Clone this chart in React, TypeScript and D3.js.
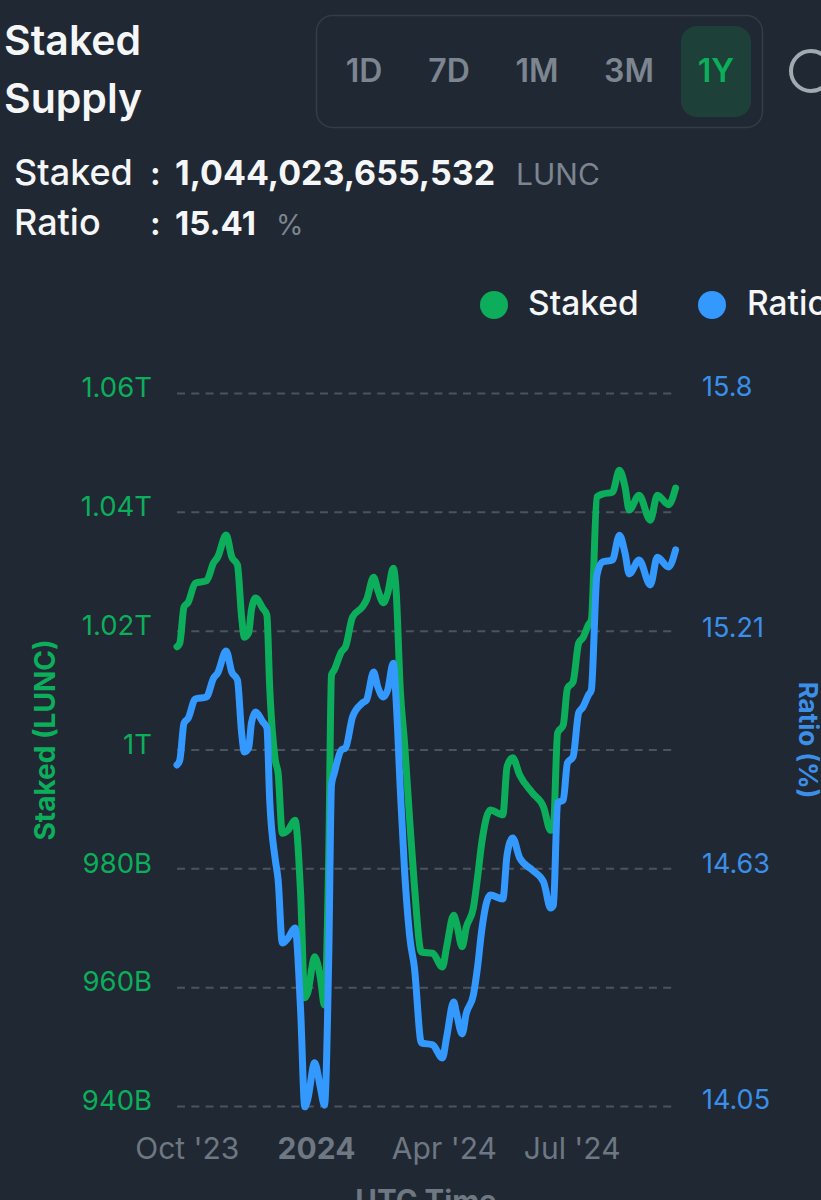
import * as d3 from "d3";
import React, { useEffect, useRef } from "react";

// days since the first point of the 1Y window
const dayOffsets = [
  0, 2, 5, 8, 13, 21, 26, 29, 35, 39, 43, 46, 48, 51, 53, 56, 61, 64, 66, 70, 72, 75, 79, 84, 88,
  91, 93, 98, 102, 105, 108, 110, 112, 117, 120, 125, 132, 135, 140, 143, 147, 150, 154, 156, 159,
  162, 166, 169, 174, 182, 189, 192, 197, 199, 203, 206, 211, 214, 217, 223, 232, 235, 239, 244,
  253, 261, 266, 268, 271, 275, 278, 282, 286, 289, 293, 295, 299, 303, 310, 315, 319, 322, 329,
  337, 342, 350, 355,
];

// billions of LUNC
const stakedValues = [
  1017.3, 1017.9, 1024.0, 1024.8, 1028.0, 1028.4, 1031.4, 1032.4, 1036.1, 1032.4, 1031.1, 1022.3,
  1018.9, 1019.6, 1023.5, 1025.5, 1023.8, 1022.6, 1010.5, 998.2, 996.0, 985.9, 986.4, 988.1, 975.8,
  958.2, 959.0, 965.1, 961.7, 957.0, 981.4, 1012.5, 1013.4, 1016.4, 1017.3, 1022.3, 1024.0, 1025.2,
  1029.0, 1026.8, 1024.7, 1026.3, 1030.5, 1026.8, 1010.0, 1001.1, 987.0, 977.2, 965.9, 965.7, 963.4,
  966.8, 972.1, 970.8, 966.8, 970.1, 973.3, 978.5, 984.3, 989.8, 989.0, 997.1, 998.6, 995.7, 992.7,
  990.3, 986.4, 987.0, 1002.8, 1004.1, 1010.3, 1011.4, 1017.9, 1018.8, 1021.0, 1021.8, 1042.5,
  1043.0, 1043.3, 1047.0, 1044.2, 1040.3, 1042.8, 1038.6, 1042.8, 1041.2, 1044.0,
];

const ratioValues = [
  14.887, 14.899, 14.99, 15.002, 15.049, 15.054, 15.1, 15.113, 15.167, 15.115, 15.096, 14.966,
  14.919, 14.929, 14.99, 15.017, 14.993, 14.978, 14.801, 14.654, 14.605, 14.45, 14.462, 14.487,
  14.286, 14.048, 14.065, 14.156, 14.097, 14.052, 14.408, 14.838, 14.867, 14.924, 14.929, 15.005,
  15.039, 15.047, 15.115, 15.078, 15.054, 15.071, 15.137, 15.047, 14.826, 14.629, 14.457, 14.391,
  14.205, 14.2, 14.168, 14.219, 14.305, 14.278, 14.227, 14.278, 14.322, 14.391, 14.482, 14.568,
  14.558, 14.666, 14.708, 14.659, 14.629, 14.6, 14.536, 14.543, 14.794, 14.801, 14.892, 14.907,
  15.015, 15.029, 15.059, 15.071, 15.353, 15.385, 15.39, 15.451, 15.407, 15.356, 15.39, 15.329,
  15.397, 15.373, 15.415,
];

const stakedTicks = [940, 960, 980, 1000, 1020, 1040, 1060];
const stakedTickLabels = ["940B", "960B", "980B", "1T", "1.02T", "1.04T", "1.06T"];
const ratioTicks = [14.05, 14.63, 15.21, 15.8];
const dateTicks = ["2023-10-01", "2024-01-01", "2024-04-01", "2024-07-01"];
const dateTickLabels = ["Oct '23", "2024", "Apr '24", "Jul '24"];
const ranges = ["1D", "7D", "1M", "3M", "1Y"];

const FONT = "Inter, 'Noto Sans', sans-serif";
const GREEN = "#0cae5b";
const BLUE = "#3399ff";
const GREY = "#6e7782";

const App: React.FC = () => {
  const svgRef = useRef<SVGSVGElement | null>(null);

  useEffect(() => {
    if (!svgRef.current) return;
    const svg = d3.select(svgRef.current);
    svg.selectAll("*").remove();

    const width = 821;
    const height = 1200;
    const margin = { left: 177, right: 144, top: 393, bottom: 94 };
    const startDate = new Date(2023, 8, 24);
    const toDate = (d: number) => d3.timeDay.offset(startDate, d);

    const x = d3
      .scaleTime()
      .domain([startDate, toDate(356)])
      .range([margin.left, width - margin.right]);
    const yStaked = d3
      .scaleLinear()
      .domain([940, 1060])
      .range([height - margin.bottom, margin.top]);
    const yRatio = d3
      .scaleLinear()
      .domain([14.05, 15.8])
      .range([height - margin.bottom, margin.top]);

    svg.append("rect").attr("width", width).attr("height", height).attr("fill", "#202833");

    const label = (
      tx: number,
      ty: number,
      t: string,
      size: number,
      fill: string,
      weight = 400,
      anchor = "start"
    ) =>
      svg
        .append("text")
        .attr("x", tx)
        .attr("y", ty)
        .attr("font-family", FONT)
        .attr("font-size", size)
        .attr("font-weight", weight)
        .attr("fill", fill)
        .attr("text-anchor", anchor)
        .text(t);

    // === Header ===
    label(4, 55, "Staked", 41, "#f4f6f8", 600);
    label(4, 113, "Supply", 41, "#f4f6f8", 600);

    svg
      .append("rect")
      .attr("x", 316.5)
      .attr("y", 15.5)
      .attr("width", 446)
      .attr("height", 112)
      .attr("rx", 16)
      .attr("fill", "none")
      .attr("stroke", "#343c47")
      .attr("stroke-width", 1.5);
    svg
      .append("rect")
      .attr("x", 681)
      .attr("y", 26)
      .attr("width", 70)
      .attr("height", 91)
      .attr("rx", 16)
      .attr("fill", "#1d4138");
    const rangeX = d3.scaleOrdinal<string, number>().domain(ranges).range([364, 449, 537, 629, 716]);
    ranges.forEach((r) =>
      label(rangeX(r), 82, r, 32, r === "1Y" ? GREEN : "#7c8590", 600, "middle")
    );
    svg
      .append("circle")
      .attr("cx", 811)
      .attr("cy", 71)
      .attr("r", 20)
      .attr("fill", "none")
      .attr("stroke", "#a3a9b1")
      .attr("stroke-width", 4);

    label(14, 185, "Staked", 36, "#f4f6f8", 500);
    label(150, 185, ":", 32, "#f4f6f8", 700);
    label(175, 185, "1,044,023,655,532", 34, "#f4f6f8", 700);
    label(516, 185, "LUNC", 30, "#7c8590", 400);
    label(14, 235, "Ratio", 36, "#f4f6f8", 500);
    label(150, 235, ":", 32, "#f4f6f8", 700);
    label(175, 235, "15.41", 33, "#f4f6f8", 700);
    label(276, 235, "%", 28, "#7c8590", 400);

    // === Legend ===
    svg.append("circle").attr("cx", 494).attr("cy", 305).attr("r", 14).attr("fill", GREEN);
    label(528, 315, "Staked", 33.5, "#f4f6f8", 500);
    svg.append("circle").attr("cx", 712).attr("cy", 305).attr("r", 14).attr("fill", BLUE);
    label(747, 315, "Ratio", 33.5, "#f4f6f8", 500);

    // === Gridlines and axes ===
    const yAxis = svg
      .append("g")
      .attr("transform", `translate(${margin.left},0)`)
      .call(
        d3
          .axisLeft(yStaked)
          .tickValues(stakedTicks)
          .tickSize(-(width - margin.left - margin.right))
          .tickPadding(25)
          .tickFormat((_, i) => stakedTickLabels[i])
      );
    yAxis.select(".domain").remove();
    yAxis
      .selectAll("line")
      .attr("stroke", "#4b535e")
      .attr("stroke-width", 2)
      .attr("stroke-dasharray", "8 6.3");
    yAxis
      .selectAll("text")
      .attr("dy", "0.32em")
      .attr("y", -5)
      .attr("fill", GREEN)
      .style("font-family", FONT)
      .style("font-size", "27.5px");

    const rAxis = svg
      .append("g")
      .attr("transform", `translate(${width - margin.right + 22},0)`)
      .call(
        d3
          .axisRight(yRatio)
          .tickValues(ratioTicks)
          .tickSize(0)
          .tickFormat((d) => String(d))
      );
    rAxis.select(".domain").remove();
    rAxis
      .selectAll("text")
      .attr("dy", "0.32em")
      .attr("y", -6)
      .attr("fill", "#3b8fe8")
      .style("font-family", FONT)
      .style("font-size", "27px");

    const xAxis = svg
      .append("g")
      .attr("transform", "translate(0,1138)")
      .call(
        d3
          .axisBottom(x)
          .tickValues(dateTicks.map((d) => d3.timeParse("%Y-%m-%d")(d) as Date))
          .tickSize(0)
          .tickPadding(0)
          .tickFormat((_, i) => dateTickLabels[i])
      );
    xAxis.select(".domain").remove();
    xAxis
      .selectAll("text")
      .attr("fill", GREY)
      .attr("font-weight", (_, i) => (dateTickLabels[i] === "2024" ? 700 : 400))
      .style("font-family", FONT)
      .style("font-size", "30px");

    label(426, 1211, "UTC Time", 29.5, GREY, 700, "middle");

    svg
      .append("text")
      .attr("transform", "translate(55,740) rotate(-90)")
      .attr("text-anchor", "middle")
      .attr("font-family", FONT)
      .attr("font-size", 28)
      .attr("font-weight", 700)
      .attr("fill", GREEN)
      .text("Staked (LUNC)");
    svg
      .append("text")
      .attr("transform", "translate(799,740) rotate(90)")
      .attr("text-anchor", "middle")
      .attr("font-family", FONT)
      .attr("font-size", 26)
      .attr("font-weight", 700)
      .attr("fill", "#3b8fe8")
      .text("Ratio (%)");

    // === Lines ===
    const lineFor = (y: d3.ScaleLinear<number, number>) =>
      d3
        .line<number>()
        .x((_, i) => x(toDate(dayOffsets[i])))
        .y((d) => y(d))
        .curve(d3.curveMonotoneX);

    svg
      .append("path")
      .datum(stakedValues)
      .attr("fill", "none")
      .attr("stroke", GREEN)
      .attr("stroke-width", 7)
      .attr("stroke-linejoin", "round")
      .attr("stroke-linecap", "round")
      .attr("d", lineFor(yStaked));
    svg
      .append("path")
      .datum(ratioValues)
      .attr("fill", "none")
      .attr("stroke", BLUE)
      .attr("stroke-width", 7)
      .attr("stroke-linejoin", "round")
      .attr("stroke-linecap", "round")
      .attr("d", lineFor(yRatio));
  }, []);

  return (
    <svg
      ref={svgRef}
      width={821}
      height={1200}
      style={{ position: "absolute", left: 0, top: 0, display: "block" }}
    />
  );
};

export default App;
